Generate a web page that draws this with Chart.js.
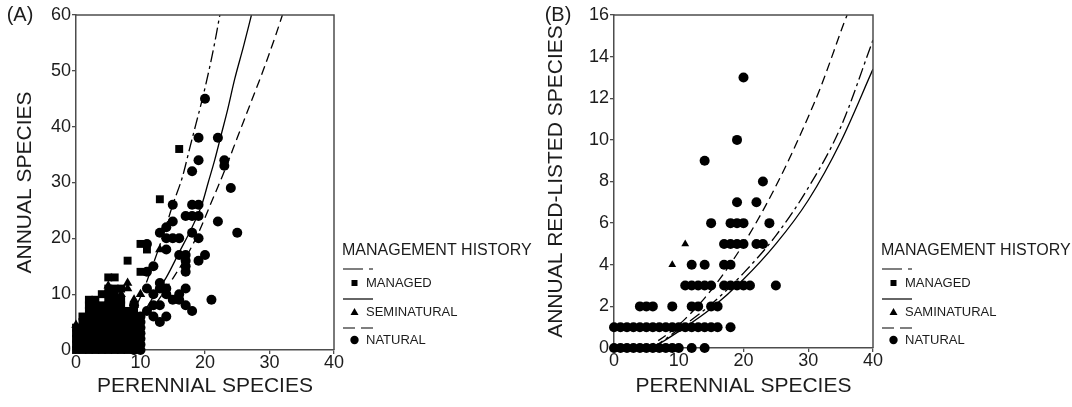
<!DOCTYPE html>
<html>
<head>
<meta charset="utf-8">
<script src="https://cdn.jsdelivr.net/npm/chart.js@4.4.1/dist/chart.umd.min.js"></script>
<style>
  html, body { margin: 0; padding: 0; background: #fff; }
  #wrap { position: relative; width: 1072px; height: 407px; overflow: hidden; }
  canvas { position: absolute; top: 0; }
  #chartA { left: 0; }
  #chartB { left: 540px; }
</style>
</head>
<body>
<div id="wrap">
  <canvas id="chartA" width="540" height="407"></canvas>
  <canvas id="chartB" width="532" height="407"></canvas>
</div>
<script>
// ---- data ----
const xTicks = [0, 10, 20, 30, 40];
const yTicksA = [0, 10, 20, 30, 40, 50, 60];
const yTicksB = [0, 2, 4, 6, 8, 10, 12, 14, 16];
const historyLabelsA = ['MANAGED', 'SEMINATURAL', 'NATURAL'];
const historyLabelsB = ['MANAGED', 'SAMINATURAL', 'NATURAL'];

// (A) annual species vs perennial species, [perennial, annual]
const managedA = [
  [16,36],[13,27],[10,19],[11,18],[8,16],[10,14],[5,13],[6,13],[4,10],[2,9],[1,6],
  [0,0],[1,0],[2,0],[3,0],[4,0],[5,0],[6,0],[7,0],[8,0],
  [0,1],[1,1],[2,1],[3,1],[4,1],[5,1],[6,1],[7,1],[8,1],[9,1],
  [0,2],[1,2],[2,2],[3,2],[4,2],[5,2],[6,2],[7,2],[8,2],[9,2],
  [0,3],[1,3],[2,3],[3,3],[4,3],[5,3],[6,3],[7,3],[8,3],[9,3],
  [0,4],[1,4],[2,4],[3,4],[4,4],[5,4],[6,4],[7,4],[8,4],
  [1,5],[2,5],[3,5],[4,5],[5,5],[6,5],[7,5],[8,5],[9,5],
  [2,6],[3,6],[4,6],[5,6],[6,6],[7,6],[8,6],
  [2,7],[3,7],[4,7],[5,7],[6,7],[7,7],[8,7],[9,7],
  [2,8],[3,8],[4,8],[5,8],[6,8],[7,8],
  [3,9],[5,9],[6,9],[7,9],
  [5,10],[6,10],
  [5,11],[6,11],[7,11]
];
const seminaturalA = [
  [0,4.5],[8,12],[8,11],[7,10],[9,9],[10,10],[9,8],[13,18],[5,11.5],
  [3,2],[6,4],[1,1]
];
const naturalA = [
  [20,45],[19,38],[22,38],[19,34],[23,34],[23,33],[18,32],[24,29],[15,26],[18,26],[19,26],
  [17,24],[18,24],[19,24],[22,23],[15,23],[14,22],[13,21],[25,21],[18,21],[19,20],[14,20],
  [15,20],[16,20],[11,19],[20,17],[19,16],[17,17],[17,16],[17,15],[17,14],[12,15],[11,14],
  [13,12],[14,11],[13,11],[17,11],[11,11],[12,10],[14,10],[15,9],[16,10],[17,8],[18,7],
  [21,9],[12,8],[13,8],[11,7],[12,6],[13,5],[14,6],[16,9],[14,18],[16,17],
  [10,0],[10,1],[10,2],[10,3],[10,4],[10,5],[10,6],[9,0],[9,4],[9,6],[9,8]
];
// fitted curves, points
const curveManagedA = [[5,2],[8,5.5],[10,9.5],[12,15.5],[13.5,20.5],[15,26],[16.5,31],[17.6,36],[18.6,40.5],[19.6,45],[20.6,50],[21.5,55],[22.3,60]];
const curveSeminaturalA = [[6,3],[8,4.3],[10,6],[12,9.5],[14,13],[16,17.5],[18,22],[19.5,26],[20.5,30],[21.5,34],[22.5,38.5],[23.5,43],[24.6,48.5],[26,54.5],[27.2,60]];
const curveNaturalA = [[6,2],[8,3.3],[10,5],[12.5,8.5],[15,12.8],[17,16.5],[19,21],[21,26.5],[23,32],[25,38],[27,44],[29,50],[31,56.5],[32,60]];

// (B) annual red-listed species vs perennial species
const managedB = [[1,0],[2,1],[5,0],[6,1],[8,0]];
const seminaturalB = [[9,4],[11,5],[3,0],[7,1]];
const naturalB = [
  [0,0],[1,0],[2,0],[3,0],[4,0],[5,0],[6,0],[7,0],[8,0],[9,0],[10,0],[12,0],[14,0],
  [0,1],[1,1],[2,1],[3,1],[4,1],[5,1],[6,1],[7,1],[8,1],[9,1],[10,1],[11,1],[12,1],
  [13,1],[14,1],[15,1],[16,1],[18,1],
  [4,2],[5,2],[6,2],[9,2],[12,2],[13,2],[15,2],[16,2],
  [11,3],[12,3],[13,3],[14,3],[15,3],[17,3],[18,3],[19,3],[20,3],[21,3],[25,3],
  [12,4],[14,4],[17,4],[18,4],
  [17,5],[18,5],[19,5],[20,5],[22,5],[23,5],
  [15,6],[18,6],[19,6],[20,6],[24,6],
  [19,7],[22,7],[23,8],[14,9],[19,10],[20,13]
];
const curveManagedB = [[6,0],[10,0.9],[15,2.1],[20,3.6],[25,5.4],[30,7.7],[35,10.6],[40,14.8]];
const curveSeminaturalB = [[6,0],[10,0.8],[15,1.9],[20,3.3],[25,5.0],[30,7.1],[35,9.9],[40,13.4]];
const curveNaturalB = [[5,0],[8,0.6],[11,1.4],[14,2.4],[17,3.6],[20,5.0],[23,6.6],[26,8.4],[29,10.4],[32,12.6],[35.5,15.6],[36,16]];

// ---- styling ----
const FONT = "'Liberation Sans', Arial, sans-serif";
const INK = '#1c1c1c';
const AXIS = '#4d4d4d';
const MARK = '#000';
const DASH_DOT = [12, 4, 3, 4];
const DASHED = [9, 5];

Chart.defaults.font.family = FONT;
Chart.defaults.color = INK;

const toXY = arr => arr.map(([x, y]) => ({ x, y }));

function pointSet(label, arr, style, radius, order) {
  return {
    label, data: toXY(arr), pointStyle: style, pointRadius: radius,
    backgroundColor: MARK, borderColor: MARK, borderWidth: 0, showLine: false,
    clip: false, order
  };
}
function curveSet(label, arr, dash) {
  return {
    label, data: toXY(arr), showLine: true, pointRadius: 0,
    borderColor: MARK, borderWidth: 1.3, borderDash: dash,
    cubicInterpolationMode: 'monotone', fill: false, order: 0
  };
}

// box round the plot area
const frame = {
  id: 'frame',
  afterDraw(chart) {
    const { ctx, chartArea: a } = chart;
    ctx.save();
    ctx.strokeStyle = AXIS;
    ctx.lineWidth = 1.5;
    ctx.beginPath();
    ctx.moveTo(a.left, a.top);
    ctx.lineTo(a.right, a.top);
    ctx.lineTo(a.right, a.bottom);
    ctx.stroke();
    ctx.restore();
  }
};

// "MANAGEMENT HISTORY" key and the (A)/(B) tag
const mgmtLegend = {
  id: 'mgmtLegend',
  afterDraw(chart, args, opts) {
    const ctx = chart.ctx;
    const x0 = opts.x;
    ctx.save();
    ctx.fillStyle = INK;
    ctx.textBaseline = 'middle';
    ctx.textAlign = 'center';
    ctx.font = '20px ' + FONT;
    ctx.fillText(opts.tag, opts.tagX, 15);

    ctx.textAlign = 'left';
    ctx.font = '16px ' + FONT;
    ctx.fillText('MANAGEMENT HISTORY', x0, 251);

    const rows = [
      { line: 269, y: 283, dash: [20, 6, 4, 100], shape: 'rect' },
      { line: 299, y: 312, dash: [], shape: 'triangle' },
      { line: 328, y: 340, dash: [12, 6], shape: 'circle' }
    ];
    ctx.font = '13px ' + FONT;
    rows.forEach((r, i) => {
      ctx.strokeStyle = MARK;
      ctx.lineWidth = 1.2;
      ctx.setLineDash(r.dash);
      ctx.beginPath();
      ctx.moveTo(x0 + 1, r.line);
      ctx.lineTo(x0 + 31, r.line);
      ctx.stroke();
      ctx.setLineDash([]);
      const mx = x0 + 12.5;
      ctx.fillStyle = MARK;
      ctx.beginPath();
      if (r.shape === 'rect') {
        ctx.rect(mx - 3, r.y - 3, 6, 6);
      } else if (r.shape === 'triangle') {
        ctx.moveTo(mx, r.y - 4);
        ctx.lineTo(mx + 4, r.y + 3);
        ctx.lineTo(mx - 4, r.y + 3);
        ctx.closePath();
      } else {
        ctx.arc(mx, r.y, 4.2, 0, Math.PI * 2);
      }
      ctx.fill();
      ctx.fillStyle = INK;
      ctx.fillText(opts.labels[i], x0 + 24, r.y + 0.5);
    });
    ctx.restore();
  }
};

function scales(yMax, yTicks, yTitle, yPad, yWidth, xHeight) {
  const grid = { display: true, drawOnChartArea: false, drawTicks: true, tickLength: 4, color: AXIS, lineWidth: 1.3 };
  const border = { display: true, color: AXIS, width: 1.5 };
  return {
    x: {
      type: 'linear', min: 0, max: 40,
      afterBuildTicks: s => { s.ticks = xTicks.map(v => ({ value: v })); },
      afterFit: s => { s.height = xHeight; },
      grid, border,
      ticks: { color: INK, font: { size: 18 }, padding: -2, maxRotation: 0, autoSkip: false },
      title: { display: true, text: 'PERENNIAL SPECIES', color: INK, font: { size: 21 }, padding: { top: 0, bottom: 8 } }
    },
    y: {
      type: 'linear', min: 0, max: yMax,
      afterBuildTicks: s => { s.ticks = yTicks.map(v => ({ value: v })); },
      afterFit: s => { s.width = yWidth; },
      grid, border,
      ticks: { color: INK, font: { size: 18 }, padding: 1, autoSkip: false },
      title: { display: true, text: yTitle, color: INK, font: { size: 21 }, padding: { top: yPad, bottom: 0 } }
    }
  };
}

function makeChart(id, sets, cfg) {
  return new Chart(document.getElementById(id), {
    type: 'scatter',
    data: { datasets: sets },
    options: {
      responsive: false,
      animation: false,
      events: [],
      layout: { padding: { left: 0, right: cfg.right, top: 15, bottom: 0 } },
      scales: scales(cfg.yMax, cfg.yTicks, cfg.yTitle, cfg.yPad, cfg.yWidth, cfg.xHeight),
      plugins: {
        legend: { display: false },
        tooltip: { enabled: false },
        mgmtLegend: { x: cfg.legendX, labels: cfg.labels, tag: cfg.tag, tagX: cfg.tagX }
      }
    },
    plugins: [frame, mgmtLegend]
  });
}

makeChart('chartA', [
  curveSet('managed fit', curveManagedA, DASH_DOT),
  curveSet('seminatural fit', curveSeminaturalA, []),
  curveSet('natural fit', curveNaturalA, DASHED),
  pointSet('SEMINATURAL', seminaturalA, 'triangle', 5.5, 1),
  pointSet('NATURAL', naturalA, 'circle', 5, 2),
  pointSet('MANAGED', managedA, 'rect', 5.6, 3)
], {
  right: 206, yMax: 60, yTicks: yTicksA, yTitle: 'ANNUAL SPECIES', yPad: 13,
  yWidth: 76, xHeight: 57, legendX: 342, labels: historyLabelsA, tag: '(A)', tagX: 20
});

makeChart('chartB', [
  curveSet('managed fit', curveManagedB, DASH_DOT),
  curveSet('seminatural fit', curveSeminaturalB, []),
  curveSet('natural fit', curveNaturalB, DASHED),
  pointSet('SAMINATURAL', seminaturalB, 'triangle', 4.5, 1),
  pointSet('NATURAL', naturalB, 'circle', 5, 2),
  pointSet('MANAGED', managedB, 'rect', 5, 3)
], {
  right: 199, yMax: 16, yTicks: yTicksB, yTitle: 'ANNUAL RED-LISTED SPECIES', yPad: 4,
  yWidth: 74, xHeight: 59, legendX: 341, labels: historyLabelsB, tag: '(B)', tagX: 18
});
</script>
</body>
</html>
